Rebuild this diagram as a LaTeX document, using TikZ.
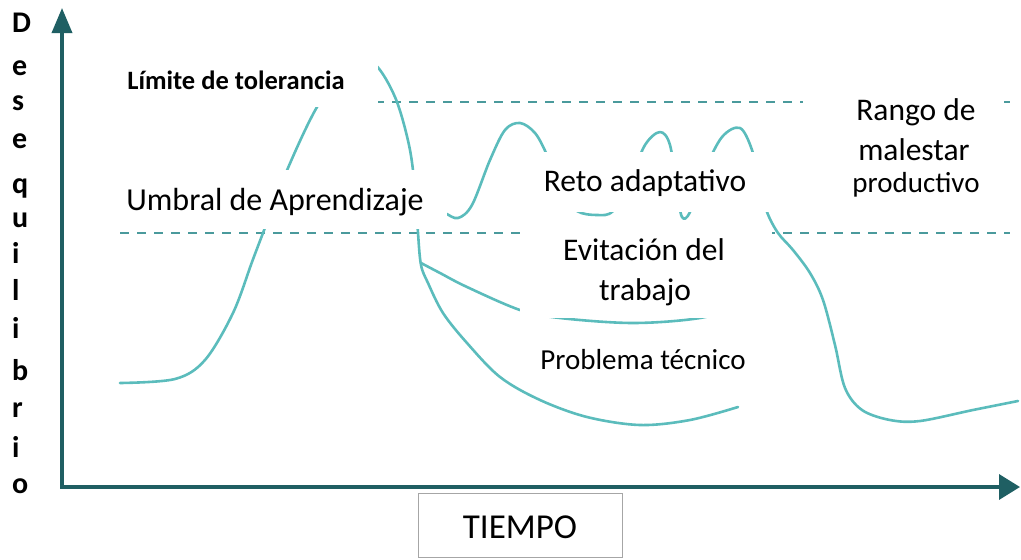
\documentclass[tikz,border=0pt]{standalone}
\usepackage{fontspec}
\setmainfont{Carlito}
\usetikzlibrary{arrows.meta}
\definecolor{axisc}{HTML}{1F5F63}
\definecolor{curvec}{HTML}{5BBCBC}
\definecolor{dashc}{HTML}{4A9A9C}
\definecolor{framec}{HTML}{A6A6A6}
\begin{document}
\begin{tikzpicture}[x=1pt,y=-1pt,
  curve/.style={draw=curvec, line width=2.6pt, line cap=round, line join=round},
  dashline/.style={draw=dashc, line width=2pt, dash pattern=on 9pt off 8pt},
  axisline/.style={draw=axisc, line width=3.5pt, line join=miter},
  mask/.style={fill=white},
  lbl/.style={font=\fontsize{31.5}{38}\selectfont, inner sep=0pt, anchor=base},
  lblsmall/.style={font=\fontsize{29}{34}\selectfont, inner sep=0pt, anchor=base},
  ylet/.style={font=\bfseries\fontsize{30}{32}\selectfont, inner sep=0pt, anchor=base west},
]
\useasboundingbox (0,0) rectangle (1021,560);

% axes
\coordinate (O) at (62,487);
\coordinate (ytip) at (62,8);
\coordinate (xtip) at (1020,487);
\draw[axisline, {Triangle[length=25pt,width=20pt]}-{Triangle[length=21pt,width=25pt]}] (ytip) -- (O) -- (xtip);

% vertical axis label
\foreach \ch/\yy [count=\i] in {D/32,e/75,s/110,e/148,q/193,u/227,i/263,l/300,i/338,b/380,r/417,i/457,o/493}
  \node[ylet] (y\i) at (12,\yy) {\ch};

% threshold lines
\coordinate (tolL) at (120,102);
\coordinate (tolR) at (1010,102);
\coordinate (umbL) at (120,233);
\coordinate (umbR) at (1010,233);
\draw[dashline] (tolL) -- (tolR);
\draw[dashline] (umbL) -- (umbR);

% main curve + technical problem branch
\draw[curve] plot[smooth, tension=0.55] coordinates {
 (120,383) (175,379) (205,360) (233,313) (252,262) (263,233) (288,168) (317,107)
 (345,70) (365,60) (380,70) (397,102) (410,150) (416,200) (418,233) (421,265)
 (428,283) (443,313) (467,343) (500,377) (540,400) (587,417) (640,425) (690,420) (738,407)};
% work avoidance branch
\draw[curve] plot[smooth, tension=0.55] coordinates {
 (421,263) (440,273) (467,287) (520,310) (560,318) (633,323) (700,318) (745,305)};
% adaptive challenge branch
\draw[curve] plot[smooth, tension=0.55] coordinates {
 (414,185) (430,205) (445,213) (458,218) (472,205) (490,160) (505,130) (520,123)
 (535,133) (547,155) (562,192) (577,211) (597,215) (613,211) (630,180) (645,145)
 (660,132) (670,145) (677,190) (682,217) (690,212) (705,170) (722,137) (740,128)
 (752,150) (760,185) (767,212) (778,233) (793,250) (810,273) (823,300) (835,345)
 (845,388) (862,410) (890,420) (920,421) (973,410) (1018,401)};

% white label backgrounds
\fill[mask] (118,55) rectangle (378,107);
\fill[mask] (118,170) rectangle (447,229);
\fill[mask] (525,152) rectangle (770,212);
\fill[mask] (520,226) rectangle (772,318);
\fill[mask] (538,334) rectangle (750,388);
\fill[mask] (803,80) rectangle (1000,215);

% labels
\node[font=\bfseries\fontsize{26.5}{30}\selectfont, inner sep=0pt, anchor=base] (limite) at (236,89) {Límite de tolerancia};
\node[lbl, font=\fontsize{32}{38}\selectfont] (umbral) at (275,210) {Umbral de Aprendizaje};
\node[lbl] (reto) at (645,191) {Reto adaptativo};
\node[lbl] (evit1) at (644,260) {Evitación del};
\node[lbl] (evit2) at (645,300) {trabajo};
\node[lblsmall] (prob) at (643,369) {Problema técnico};
\node[lbl] (rango1) at (916,120) {Rango de};
\node[lbl] (rango2) at (914,160) {malestar};
\node[lblsmall] (rango3) at (916,192) {productivo};

% time box
\node[draw=framec, line width=1pt, minimum width=204pt, minimum height=64pt, inner sep=0pt] (tiempo) at (520,525) {};
\node[font=\fontsize{35}{40}\selectfont, inner sep=0pt, anchor=base] (tiempotxt) at (520,538) {TIEMPO};
\end{tikzpicture}
\end{document}
